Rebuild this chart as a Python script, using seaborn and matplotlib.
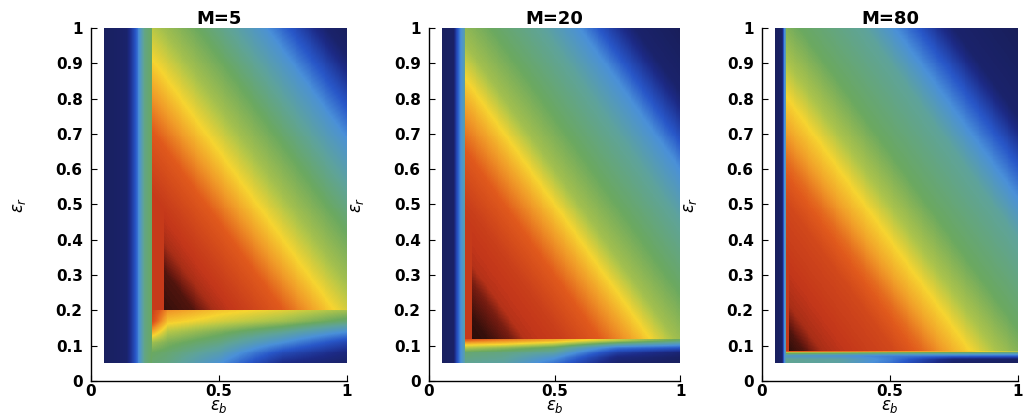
import numpy as np
import pandas as pd
import matplotlib
matplotlib.use("Agg")
import matplotlib.pyplot as plt
import seaborn as sns
from matplotlib.colors import LinearSegmentedColormap

# ---------------- data ----------------
titles = ["M=5", "M=20", "M=80"]
x_ticks = [0, 0.5, 1]
x_tick_labels = ["0", "0.5", "1"]
y_ticks = [0, 0.1, 0.2, 0.3, 0.4, 0.5, 0.6, 0.7, 0.8, 0.9, 1]
y_tick_labels = ["0", "0.1", "0.2", "0.3", "0.4", "0.5", "0.6", "0.7", "0.8", "0.9", "1"]
data_lo = 0.05   # lowest eps value sampled (both axes)
data_hi = 1.0

# region edges per panel: left band edge, start of darkest zone, bottom band edge
edge_left = [0.237, 0.145, 0.095]
edge_dark = [0.285, 0.17, 0.105]
edge_bottom = [0.20, 0.12, 0.085]
red_cap = [0.87, 0.87, 0.87]

# left band level vs eps_b
m5_left_x = [0.05, 0.14, 0.165, 0.19, 0.21, 0.237]
m5_left_v = [0.03, 0.06, 0.20, 0.36, 0.48, 0.52]
m20_left_x = [0.05, 0.10, 0.11, 0.125, 0.145]
m20_left_v = [0.03, 0.05, 0.20, 0.34, 0.45]
m80_left_x = [0.05, 0.08, 0.087, 0.095]
m80_left_v = [0.03, 0.05, 0.33, 0.45]

# main region level vs eps_b + eps_r
m5_diag_s = [0.44, 0.60, 0.68, 0.80, 0.95, 1.05, 1.15, 1.28, 1.42, 1.55, 1.68, 1.80, 1.92, 2.0]
m5_diag_v = [1.00, 0.97, 0.90, 0.86, 0.80, 0.73, 0.66, 0.58, 0.52, 0.45, 0.36, 0.22, 0.06, 0.03]
m20_diag_s = [0.27, 0.35, 0.45, 0.50, 0.65, 0.80, 0.92, 1.00, 1.10, 1.25, 1.45, 1.60, 1.70, 1.82, 2.0]
m20_diag_v = [1.00, 0.99, 0.94, 0.89, 0.86, 0.80, 0.72, 0.66, 0.58, 0.52, 0.45, 0.35, 0.22, 0.06, 0.02]
m80_diag_s = [0.18, 0.25, 0.32, 0.45, 0.60, 0.72, 0.82, 0.90, 1.00, 1.15, 1.40, 1.52, 1.62, 1.75, 2.0]
m80_diag_v = [1.00, 0.97, 0.90, 0.87, 0.84, 0.78, 0.71, 0.66, 0.59, 0.52, 0.45, 0.35, 0.24, 0.06, 0.02]

# bottom band levels (rows: eps_r, cols: eps_b)
m5_bot_x = [0.237, 0.30, 0.50, 0.75, 1.0]
m5_bot_y = [0.05, 0.08, 0.11, 0.14, 0.17, 0.20]
m5_bot_v = [[0.50, 0.48, 0.36, 0.12, 0.05],
            [0.52, 0.50, 0.42, 0.22, 0.10],
            [0.58, 0.54, 0.48, 0.35, 0.20],
            [0.72, 0.60, 0.54, 0.46, 0.35],
            [0.84, 0.68, 0.63, 0.58, 0.50],
            [0.86, 0.74, 0.68, 0.64, 0.58]]
m20_bot_x = [0.145, 0.30, 0.50, 0.75, 1.0]
m20_bot_y = [0.05, 0.065, 0.08, 0.095, 0.105, 0.115, 0.12]
m20_bot_v = [[0.46, 0.44, 0.30, 0.06, 0.03],
             [0.48, 0.46, 0.36, 0.10, 0.04],
             [0.50, 0.48, 0.44, 0.18, 0.08],
             [0.60, 0.56, 0.50, 0.30, 0.25],
             [0.68, 0.66, 0.60, 0.45, 0.38],
             [0.78, 0.74, 0.70, 0.60, 0.50],
             [0.82, 0.78, 0.72, 0.62, 0.52]]
m80_bot_x = [0.095, 0.30, 0.50, 0.75, 1.0]
m80_bot_y = [0.05, 0.06, 0.07, 0.078, 0.083, 0.085]
m80_bot_v = [[0.46, 0.44, 0.30, 0.05, 0.03],
             [0.46, 0.44, 0.32, 0.08, 0.04],
             [0.38, 0.36, 0.32, 0.30, 0.28],
             [0.55, 0.53, 0.50, 0.48, 0.45],
             [0.68, 0.66, 0.64, 0.60, 0.55],
             [0.80, 0.78, 0.75, 0.70, 0.60]]

left_x = [m5_left_x, m20_left_x, m80_left_x]
left_v = [m5_left_v, m20_left_v, m80_left_v]
diag_s = [m5_diag_s, m20_diag_s, m80_diag_s]
diag_v = [m5_diag_v, m20_diag_v, m80_diag_v]
bot_x = [m5_bot_x, m20_bot_x, m80_bot_x]
bot_y = [m5_bot_y, m20_bot_y, m80_bot_y]
bot_v = [m5_bot_v, m20_bot_v, m80_bot_v]

# colour map (jet-like, ending in near black)
cmap_pos = [0.0, 0.12, 0.25, 0.35, 0.45, 0.52, 0.60, 0.66, 0.73, 0.80, 0.88, 0.95, 1.0]
cmap_col = ["#181c52", "#1c2a86", "#2857c8", "#4a90d8", "#5ea39a", "#6aa860",
            "#b4c648", "#f6d430", "#f09a28", "#e05a1c", "#c2361a", "#6e1a10", "#2a0d0a"]
cmap = LinearSegmentedColormap.from_list("jetdark", list(zip(cmap_pos, cmap_col)))

# ---------------- build fields ----------------
NX, NY = 260, 340
dx = (data_hi - data_lo) / NX
dy = (data_hi - data_lo) / NY
xs = data_lo + (np.arange(NX) + 0.5) * dx
ys = data_lo + (np.arange(NY) + 0.5) * dy
X, Y = np.meshgrid(xs, ys)


def build_field(i):
    main = np.interp(X + Y, diag_s[i], diag_v[i])
    main = np.where(X < edge_dark[i], np.minimum(main, red_cap[i]), main)
    left = np.interp(X, left_x[i], left_v[i])
    bv = np.array(bot_v[i])
    rows = np.array([np.interp(xs, bot_x[i], r) for r in bv])
    bottom = np.array([np.interp(ys, bot_y[i], rows[:, j]) for j in range(NX)]).T
    return np.where(X < edge_left[i], left, np.where(Y < edge_bottom[i], bottom, main))


def xi(v):
    return (v - data_lo) / dx


def yi(v):
    return (v - data_lo) / dy


# ---------------- drawing ----------------
sns.set_style("white")
plt.rcParams["font.family"] = ["DejaVu Sans"]
plt.rcParams["mathtext.fontset"] = "dejavusans"
plt.rcParams["text.color"] = "black"
plt.rcParams["axes.labelcolor"] = "black"

fig = plt.figure(figsize=(10.23, 4.19), dpi=100)
positions = [[0.0890, 0.0907, 0.2502, 0.8425],
             [0.4194, 0.0907, 0.2454, 0.8425],
             [0.7449, 0.0907, 0.2500, 0.8425]]

for i in range(3):
    ax = fig.add_axes(positions[i])
    df = pd.DataFrame(build_field(i), index=np.round(ys, 4), columns=np.round(xs, 4))
    sns.heatmap(df, ax=ax, cmap=cmap, vmin=0, vmax=1, cbar=False,
                xticklabels=False, yticklabels=False)
    ax.set_xlim(xi(0), xi(1))
    ax.set_ylim(yi(0), yi(1))
    for side in ["left", "bottom"]:
        ax.spines[side].set_visible(True)
        ax.spines[side].set_color("black")
        ax.spines[side].set_linewidth(1.0)
    for side in ["top", "right"]:
        ax.spines[side].set_visible(False)
    ax.set_xticks([xi(t) for t in x_ticks])
    ax.set_xticklabels(x_tick_labels, fontsize=11, fontweight="bold", rotation=0)
    ax.set_yticks([yi(t) for t in y_ticks])
    ax.set_yticklabels(y_tick_labels, fontsize=11, fontweight="bold", rotation=0)
    ax.tick_params(axis="both", direction="in", length=4, width=0.8, colors="black",
                   left=True, bottom=True)
    ax.tick_params(axis="y", pad=6)
    ax.tick_params(axis="x", pad=2)
    ax.set_xlabel(r"$\varepsilon_b$", fontsize=12, labelpad=-1, color="black")
    ax.set_ylabel(r"$\varepsilon_r$", fontsize=12, labelpad=20, color="black")
    ax.set_title(titles[i], fontsize=13, fontweight="bold", pad=3, color="black")

fig.savefig("out.png", dpi=100)
